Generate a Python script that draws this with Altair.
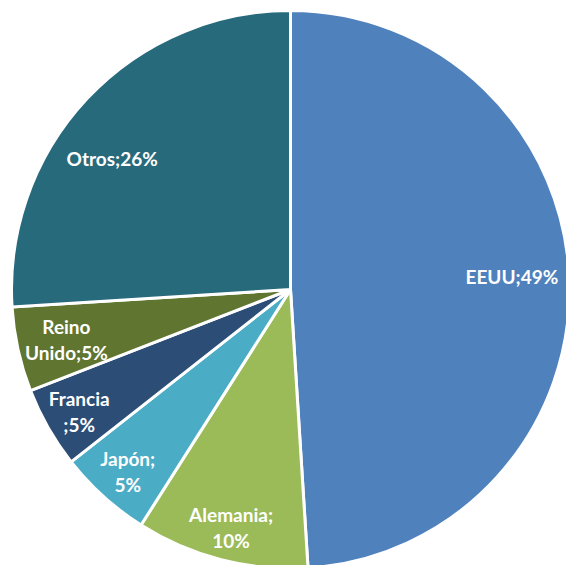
import altair as alt
import pandas as pd

categories = ["EEUU", "Alemania", "Japón", "Francia", "Reino Unido", "Otros"]
values = [49.0, 10.0, 5.4, 4.7, 4.9, 26.0]
labels = ["EEUU;49%", "Alemania;\n10%", "Japón;\n5%", "Francia\n;5%", "Reino\nUnido;5%", "Otros;26%"]
colors = ["#4F81BD", "#9BBB59", "#4BACC6", "#2C4D75", "#5F7530", "#276A7C"]

df = pd.DataFrame({
    "pais": categories,
    "valor": values,
    "etiqueta": labels,
    "idx": list(range(len(categories))),
})

R = 279
total = sum(values)

base = alt.Chart(df).transform_window(
    fin="sum(valor)", sort=[alt.SortField("idx")], frame=[None, 0]
).transform_calculate(
    ini="datum.fin - datum.valor",
    mid="datum.fin - datum.valor / 2",
)

tscale = alt.Scale(domain=[0, total], range=[0, 6.283185307179586])

arcs = base.mark_arc(outerRadius=R, stroke="white", strokeWidth=3).encode(
    theta=alt.Theta("ini:Q", scale=tscale),
    theta2="fin:Q",
    color=alt.Color("pais:N", scale=alt.Scale(domain=categories, range=colors), legend=None),
)

txt_style = dict(font="Lato", fontSize=19, fontWeight="bold", color="white",
                 align="center", baseline="middle", lineBreak="\n", lineHeight=26)


def label_layer(names, radius, dx=0, dy=0):
    return base.mark_text(radius=radius, dx=dx + 1.5, dy=dy + 2, **txt_style).encode(
        theta=alt.Theta("mid:Q", scale=tscale), text="etiqueta:N"
    ).transform_filter(alt.FieldOneOfPredicate(field="pais", oneOf=names))


l_eeuu = label_layer(["EEUU"], 220, dy=-7)
l_otros = label_layer(["Otros"], 222, dx=-18, dy=20)
l_reino = label_layer(["Reino Unido"], 231, dy=-13)
l_small = label_layer(["Alemania", "Japón", "Francia"], 245, dy=-13)

chart = alt.layer(arcs, l_eeuu, l_otros, l_reino, l_small).properties(
    width=551, height=551,
    padding={"left": 7, "top": 6, "right": 0, "bottom": 0},
    autosize="none",
).configure_view(stroke=None)

chart.save("out.html", embed_options={"renderer": "svg", "actions": False})
